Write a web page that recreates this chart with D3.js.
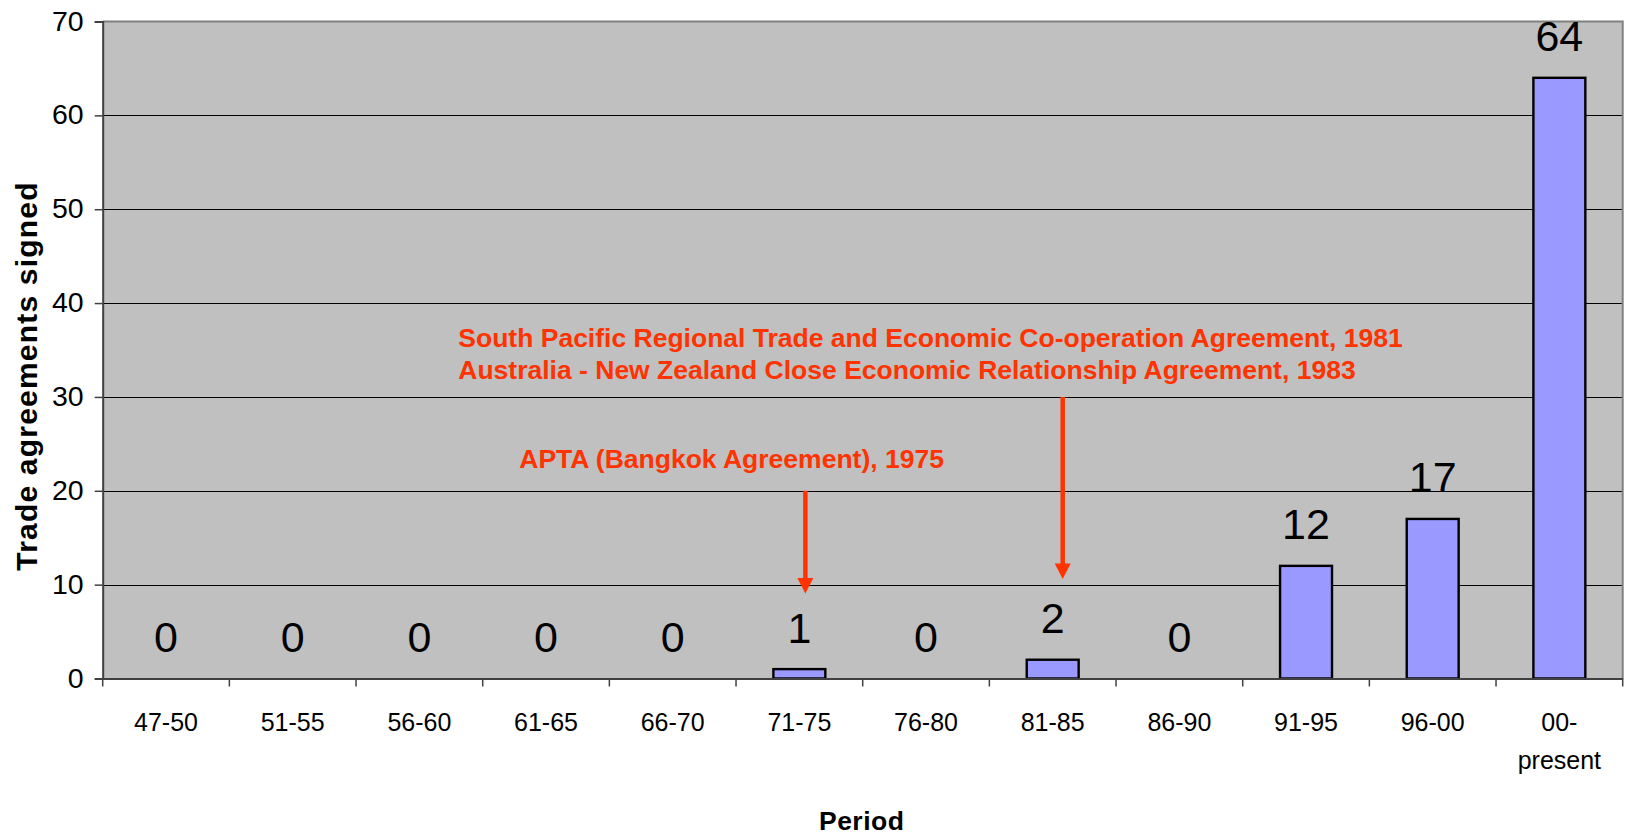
<!DOCTYPE html>
<html>
<head>
<meta charset="utf-8">
<script src="https://cdn.jsdelivr.net/npm/d3@7"></script>
<style>
  html, body { margin: 0; padding: 0; background: #ffffff; }
  svg { display: block; }
  text { font-family: "Liberation Sans", Arial, sans-serif; }
</style>
</head>
<body>
<svg id="chart" width="1625" height="837"></svg>
<script>
// ---- data ----
const categories = ["47-50", "51-55", "56-60", "61-65", "66-70", "71-75", "76-80", "81-85", "86-90", "91-95", "96-00", "00- present"];
const values = [0, 0, 0, 0, 0, 1, 0, 2, 0, 12, 17, 64];
const yTicks = [0, 10, 20, 30, 40, 50, 60, 70];
const yTitle = "Trade agreements signed";
const xTitle = "Period";
const annotationLines = [
  "South Pacific Regional Trade and Economic Co-operation Agreement, 1981",
  "Australia - New Zealand Close Economic Relationship Agreement, 1983"
];
const annotationApta = "APTA (Bangkok Agreement), 1975";
// arrows: category pointed at, start value, tip value
const arrowCats = ["71-75", "81-85"];
const arrowFrom = [20, 30];
const arrowTo = [9.05, 10.6];

(function () {
// ---- layout ----
const pLeft = 102.7, pRight = 1622.7, pTop = 21.5, pBottom = 678.5;
const svg = d3.select("#chart");

const x = d3.scaleBand().domain(categories).range([pLeft, pRight])
  .paddingInner(0.59).paddingOuter(0.295);
const step = x.step();
const y = d3.scaleLinear().domain([0, 70]).range([pBottom, pTop]);

// plot area background
svg.append("rect")
  .attr("x", pLeft).attr("y", pTop)
  .attr("width", pRight - pLeft).attr("height", pBottom - pTop)
  .attr("fill", "#c0c0c0");

// gridlines
svg.append("g").selectAll("line")
  .data(yTicks.filter(d => d > 0 && d < 70))
  .join("line")
  .attr("x1", pLeft).attr("x2", pRight)
  .attr("y1", d => Math.round(y(d)) + 0.5).attr("y2", d => Math.round(y(d)) + 0.5)
  .attr("stroke", "#000").attr("stroke-width", 1.2);

// top & right border
svg.append("path")
  .attr("d", `M${pLeft},${pTop}H${pRight}V${pBottom}`)
  .attr("fill", "none").attr("stroke", "#808080").attr("stroke-width", 2);

// bars
svg.append("g").selectAll("rect")
  .data(values)
  .join("rect")
  .attr("x", (d, i) => x(categories[i]))
  .attr("y", d => y(d))
  .attr("width", x.bandwidth())
  .attr("height", d => y(0) - y(d))
  .attr("fill", d => d > 0 ? "#9999ff" : "none")
  .attr("stroke", d => d > 0 ? "#000" : "none")
  .attr("stroke-width", 2.4);

// data labels
svg.append("g").selectAll("text")
  .data(values)
  .join("text")
  .attr("x", (d, i) => x(categories[i]) + x.bandwidth() / 2)
  .attr("y", d => y(d) - 26.5)
  .attr("text-anchor", "middle")
  .attr("font-size", 43)
  .attr("fill", "#000")
  .text(d => d);

// y axis
const yAxis = svg.append("g")
  .attr("transform", `translate(${pLeft},0)`)
  .call(d3.axisLeft(y).tickValues(yTicks).tickSize(8).tickPadding(11).tickFormat(d3.format("d")));
yAxis.select(".domain").attr("stroke", "#404040").attr("stroke-width", 2);
yAxis.selectAll(".tick line").attr("stroke", "#404040").attr("stroke-width", 1.5);
yAxis.selectAll(".tick text")
  .attr("font-size", 28.5).attr("fill", "#000")
  .attr("font-family", "'Liberation Sans', Arial, sans-serif")
  .attr("dy", "0.3em");

// x axis
const xAxis = svg.append("g")
  .attr("transform", `translate(0,${pBottom})`)
  .call(d3.axisBottom(x).tickSize(0).tickFormat(""));
xAxis.select(".domain").attr("stroke", "#404040").attr("stroke-width", 2);
xAxis.selectAll(".tick line").remove();
// category boundary tick marks
svg.append("g").selectAll("line")
  .data(d3.range(categories.length + 1))
  .join("line")
  .attr("x1", i => pLeft + i * step).attr("x2", i => pLeft + i * step)
  .attr("y1", pBottom).attr("y2", pBottom + 8)
  .attr("stroke", "#404040").attr("stroke-width", 1.5);

// x tick labels (multi-line)
const xl = svg.append("g").selectAll("text")
  .data(categories)
  .join("text")
  .attr("x", d => x(d) + x.bandwidth() / 2)
  .attr("y", pBottom + 52.2)
  .attr("text-anchor", "middle")
  .attr("font-size", 25)
  .attr("fill", "#000");
xl.each(function(d) {
  const parts = d.split(" ");
  const t = d3.select(this);
  parts.forEach((p, k) => {
    t.append("tspan")
      .attr("x", x(d) + x.bandwidth() / 2)
      .attr("dy", k === 0 ? 0 : 38.5)
      .text(p);
  });
});

// axis titles
svg.append("text")
  .attr("transform", "translate(36.7,376) rotate(-90)")
  .attr("text-anchor", "middle")
  .attr("font-size", 30)
  .attr("font-weight", "bold")
  .attr("letter-spacing", 1.2)
  .attr("fill", "#000")
  .text(yTitle);

svg.append("text")
  .attr("x", (pLeft + pRight) / 2 - 1)
  .attr("y", 830)
  .attr("text-anchor", "middle")
  .attr("font-size", 26.5)
  .attr("font-weight", "bold")
  .attr("letter-spacing", 0.5)
  .attr("fill", "#000")
  .text(xTitle);

// annotations
const red = "#ff3300";
svg.append("g").selectAll("text")
  .data(annotationLines)
  .join("text")
  .attr("x", 458.3)
  .attr("y", (d, i) => 347.3 + i * 32)
  .attr("font-size", 26.5)
  .attr("font-weight", "bold")
  .attr("fill", red)
  .text(d => d);

svg.append("text")
  .attr("x", 519.3)
  .attr("y", 468.3)
  .attr("font-size", 26.5)
  .attr("font-weight", "bold")
  .attr("fill", red)
  .text(annotationApta);

const arrowOffsets = [6, 10];
const headLen = 15.5, headHalf = 8;
arrowCats.forEach((c, i) => {
  const ax = x(c) + x.bandwidth() / 2 + arrowOffsets[i];
  const y0 = y(arrowFrom[i]);
  const y1 = y(arrowTo[i]);
  svg.append("line")
    .attr("x1", ax).attr("x2", ax)
    .attr("y1", y0).attr("y2", y1 - headLen + 1)
    .attr("stroke", red).attr("stroke-width", 4.5);
  svg.append("path")
    .attr("d", `M${ax - headHalf},${y1 - headLen}L${ax + headHalf},${y1 - headLen}L${ax},${y1}Z`)
    .attr("fill", red);
});
})();
</script>
</body>
</html>
